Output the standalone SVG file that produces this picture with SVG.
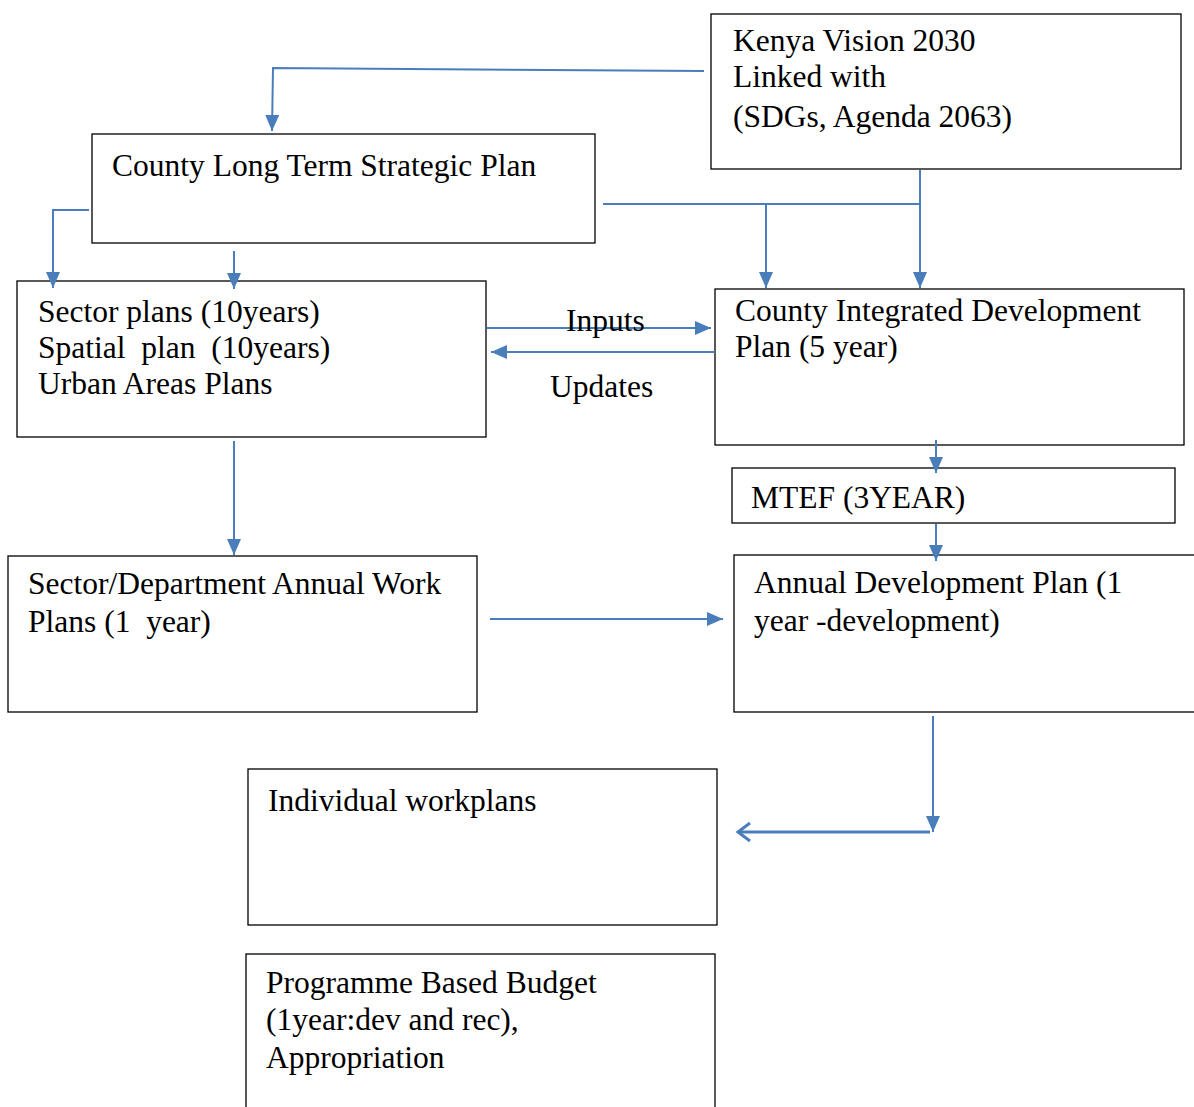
<svg xmlns="http://www.w3.org/2000/svg" width="1194" height="1107" viewBox="0 0 1194 1107">
<style>
.box{fill:#fff;stroke:#000;stroke-width:1.3}
.t{font-family:"Liberation Serif","Times New Roman",serif;font-size:31.5px;fill:#000;white-space:pre}
.c{fill:none;stroke:#4A7EBB;stroke-width:2}
</style>
<defs>
<marker id="a" markerUnits="userSpaceOnUse" markerWidth="17" markerHeight="16" refX="16" refY="8" orient="auto">
<path d="M0,1 L16,8 L0,15 Z" fill="#4A7EBB"/>
</marker>
<marker id="o" markerUnits="userSpaceOnUse" markerWidth="18" markerHeight="22" refX="15" refY="11" orient="auto">
<path d="M3,2 L15,11 L3,20" fill="none" stroke="#4A7EBB" stroke-width="3"/>
</marker>
</defs>
<rect width="1194" height="1107" fill="#fff"/>
<g id="kenya"><rect class="box" x="711" y="14" width="470" height="155"/>
<text class="t" x="733" y="51">Kenya Vision 2030</text><text class="t" x="733" y="87">Linked with</text><text class="t" x="733" y="127">(SDGs, Agenda 2063)</text></g>
<g id="cltsp"><rect class="box" x="92" y="134" width="503" height="109"/>
<text class="t" x="112" y="176">County Long Term Strategic Plan</text></g>
<g id="sector"><rect class="box" x="17" y="281" width="469" height="156"/>
<text class="t" x="38" y="322">Sector plans (10years)</text><text class="t" x="38" y="358">Spatial  plan  (10years)</text><text class="t" x="38" y="394">Urban Areas Plans</text></g>
<g id="cidp"><rect class="box" x="715" y="289" width="469" height="156"/>
<text class="t" x="735" y="321">County Integrated Development</text><text class="t" x="735" y="357">Plan (5 year)</text></g>
<g id="mtef"><rect class="box" x="732" y="468" width="443" height="55"/>
<text class="t" x="751" y="508">MTEF (3YEAR)</text></g>
<g id="sdawp"><rect class="box" x="8" y="556" width="469" height="156"/>
<text class="t" x="28" y="594">Sector/Department Annual Work</text><text class="t" x="28" y="632">Plans (1  year)</text></g>
<g id="adp"><rect class="box" x="734" y="555" width="470" height="157"/>
<text class="t" x="754" y="593">Annual Development Plan (1</text><text class="t" x="754" y="631">year -development)</text></g>
<g id="individual"><rect class="box" x="248" y="769" width="469" height="156"/>
<text class="t" x="268" y="811">Individual workplans</text></g>
<g id="pbb"><rect class="box" x="246" y="954" width="469" height="160"/>
<text class="t" x="266" y="993">Programme Based Budget</text><text class="t" x="266" y="1030">(1year:dev and rec),</text><text class="t" x="266" y="1068">Appropriation</text></g>
<g id="connectors">
<path class="c" d="M704,71 L273,68 L272,131" marker-end="url(#a)"/>
<path class="c" d="M89,210 L53,210 L53,288" marker-end="url(#a)"/>
<path class="c" d="M234,251 L234,289" marker-end="url(#a)"/>
<path class="c" d="M603,204 L920,204"/>
<path class="c" d="M920,170 L920,288" marker-end="url(#a)"/>
<path class="c" d="M766,204 L766,288" marker-end="url(#a)"/>
<path class="c" d="M487,328 L711,328" marker-end="url(#a)"/>
<path class="c" d="M715,352 L491,352" marker-end="url(#a)"/>
<path class="c" d="M936,440 L936,473" marker-end="url(#a)"/>
<path class="c" d="M936,524 L936,561" marker-end="url(#a)"/>
<path class="c" d="M234,441 L234,555" marker-end="url(#a)"/>
<path class="c" d="M490,619 L723,619" marker-end="url(#a)"/>
<path class="c" d="M933,716 L933,832" marker-end="url(#a)"/>
<path class="c" d="M930,832 L738,832" style="stroke-width:3" marker-end="url(#o)"/>
<text class="t" x="566" y="331">Inputs</text>
<text class="t" x="550" y="397">Updates</text>
</g>
</svg>
